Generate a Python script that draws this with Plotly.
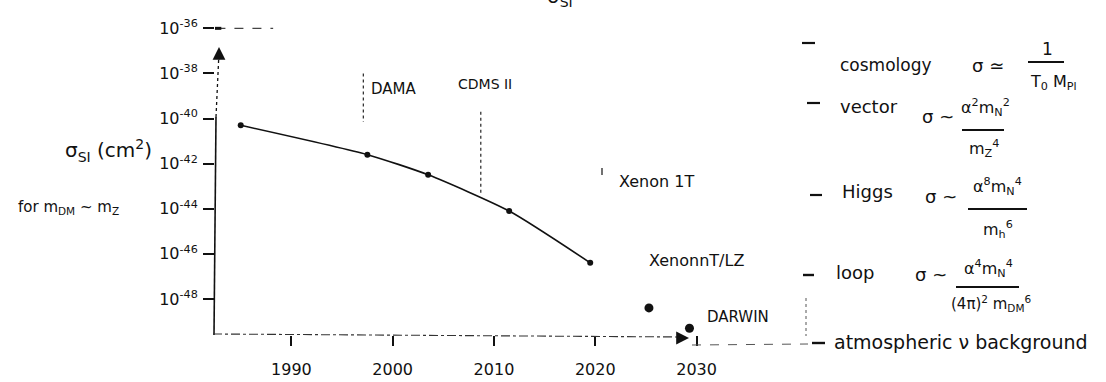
import plotly.graph_objects as go

# ---------------- data ----------------
exp_years = [1985.0, 1997.5, 2003.5, 2011.5, 2019.5]
exp_sigma = [5.0e-41, 2.5e-42, 3.2e-43, 7.9e-45, 4.0e-47]

future_years = [2025.3, 2029.3]
future_sigma = [4.0e-49, 5.0e-50]

line_names = ["DAMA", "CDMS II"]
line_years = [1997.1, 2008.7]
line_top = [1.0e-38, 2.0e-40]
line_bottom = [7.0e-41, 4.0e-44]

cosmo_years = [1982.6, 1988.2]
cosmo_sigma = [1.0e-36, 1.0e-36]

y_tick_vals = [1e-36, 1e-38, 1e-40, 1e-42, 1e-44, 1e-46, 1e-48]
y_tick_text = ["10<sup>-36</sup>", "10<sup>-38</sup>", "10<sup>-40</sup>", "10<sup>-42</sup>",
               "10<sup>-44</sup>", "10<sup>-46</sup>", "10<sup>-48</sup>"]
x_tick_vals = [1990, 2000, 2010, 2020, 2030]
x_tick_text = ["1990", "2000", "2010", "2020", "2030"]

# ---------------- layout geometry ----------------
W, H = 1106, 382
L, R, T, B = 215, 800, 20, 335   # plot area in pixels
FONT = "DejaVu Sans"
INK = "#111111"


def px(x, y):
    return (x - L) / (R - L), (B - y) / (B - T)


fig = go.Figure()

# measured limits curve
fig.add_trace(go.Scatter(x=exp_years, y=exp_sigma, mode="lines+markers",
                         line=dict(color=INK, width=1.6, shape="spline", smoothing=0.6),
                         marker=dict(color=INK, size=6), showlegend=False))
# projected sensitivities
fig.add_trace(go.Scatter(x=future_years, y=future_sigma, mode="markers",
                         marker=dict(color=INK, size=9), showlegend=False))
# DAMA / CDMS vertical markers
for name, yr, top, bot in zip(line_names, line_years, line_top, line_bottom):
    fig.add_trace(go.Scatter(x=[yr, yr], y=[top, bot], mode="lines",
                             line=dict(color=INK, width=1.1, dash="dot"), showlegend=False))
# cosmology level
fig.add_trace(go.Scatter(x=cosmo_years, y=cosmo_sigma, mode="lines",
                         line=dict(color="#444", width=1.1, dash="dash"), showlegend=False))
fig.add_trace(go.Scatter(x=cosmo_years[:1], y=cosmo_sigma[:1], mode="markers",
                         marker=dict(color=INK, size=7, symbol="line-ew-open",
                                     line=dict(width=3, color=INK)), showlegend=False))

shapes = []
annotations = []


def seg(x0, y0, x1, y1, dash="solid", width=1.5, color=INK):
    a0, b0 = px(x0, y0)
    a1, b1 = px(x1, y1)
    shapes.append(dict(type="line", xref="paper", yref="paper", x0=a0, y0=b0, x1=a1, y1=b1,
                       line=dict(color=color, width=width, dash=dash)))


def txt(x, y, s, size=16, xanchor="center", yanchor="middle"):
    a, b = px(x, y)
    annotations.append(dict(xref="paper", yref="paper", x=a, y=b, text=s, showarrow=False,
                            xanchor=xanchor, yanchor=yanchor,
                            font=dict(family=FONT, size=size, color=INK)))


# axes lines (hand-drawn style)
seg(214, 335, 216, 117, width=1.6)
seg(216, 117, 219, 52, dash="dot", width=1.3)
seg(213, 334, 684, 337, dash="dashdot", width=1.1, color="#333")
seg(692, 345, 808, 344, dash="dash", width=1.0, color="#555")
seg(806, 298, 806, 336, dash="dot", width=1.0, color="#555")

# arrow heads
a, b = px(219, 47)
annotations.append(dict(xref="paper", yref="paper", x=a, y=b, ax=0, ay=14, showarrow=True,
                        arrowhead=2, arrowsize=1.6, arrowwidth=1.6, arrowcolor=INK, text=""))
a, b = px(689, 338)
annotations.append(dict(xref="paper", yref="paper", x=a, y=b, ax=-12, ay=0, showarrow=True,
                        arrowhead=2, arrowsize=1.6, arrowwidth=1.6, arrowcolor=INK, text=""))

# y-axis title
txt(108, 150, "σ<sub>SI</sub> (cm<sup>2</sup>)", size=20)
txt(68, 207, "for m<sub>DM</sub> ~ m<sub>Z</sub>", size=15)

# partially visible title at the top
txt(560, 12, "σ<sub>SI</sub>", size=20, yanchor="bottom")

# experiment labels
txt(393, 89, "DAMA", size=15)
txt(485, 84, "CDMS II", size=14)
seg(602, 168, 602, 175, width=1.2)
txt(656, 182, "Xenon 1T", size=16)
txt(696, 260, "XenonnT/LZ", size=16)
txt(738, 317, "DARWIN", size=15)

# right-hand column (bullet dashes)
seg(802, 43, 815, 43, width=2.2)
seg(807, 103, 820, 103, width=2.2)
seg(810, 195, 822, 195, width=2.2)
seg(803, 275, 814, 275, width=2.4)
seg(812, 343, 825, 343, width=2.4)

txt(838, 65, "cosmology", size=17, xanchor="left")
txt(970, 65, "σ ≃", size=18, xanchor="left")
txt(1047, 49, "1", size=17)
seg(1028, 62, 1064, 62, width=1.8)
txt(1053, 83, "T<sub>0</sub> M<sub>Pl</sub>", size=16)

txt(838, 106, "vector", size=18, xanchor="left")
txt(920, 116, "σ ~", size=18, xanchor="left")
txt(985, 107, "α<sup>2</sup>m<sub>N</sub><sup>2</sup>", size=16)
seg(962, 130, 1004, 130, width=1.8)
txt(984, 148, "m<sub>Z</sub><sup>4</sup>", size=16)

txt(840, 191, "Higgs", size=18, xanchor="left")
txt(923, 196, "σ ~", size=18, xanchor="left")
txt(997, 186, "α<sup>8</sup>m<sub>N</sub><sup>4</sup>", size=16)
seg(968, 209, 1027, 209, width=1.8)
txt(998, 229, "m<sub>h</sub><sup>6</sup>", size=16)

txt(834, 272, "loop", size=18, xanchor="left")
txt(913, 274, "σ ~", size=18, xanchor="left")
txt(988, 268, "α<sup>4</sup>m<sub>N</sub><sup>4</sup>", size=16)
seg(956, 287, 1019, 287, width=1.8)
txt(991, 303, "(4π)<sup>2</sup> m<sub>DM</sub><sup>6</sup>", size=15)

txt(832, 342, "atmospheric ν background", size=19, xanchor="left")

fig.update_layout(
    width=W, height=H,
    margin=dict(l=L, r=W - R, t=T, b=H - B, pad=0),
    paper_bgcolor="white", plot_bgcolor="rgba(0,0,0,0)",
    shapes=shapes, annotations=annotations,
    xaxis=dict(range=[1982.46, 2040.21], showgrid=False, zeroline=False, showline=False,
               tickvals=x_tick_vals, ticktext=x_tick_text, ticks="outside", ticklen=10,
               tickwidth=2, tickcolor=INK, ticklabelstandoff=10,
               tickfont=dict(family=FONT, size=16, color=INK), automargin=False),
    yaxis=dict(type="log", range=[-49.60, -35.63], showgrid=False, zeroline=False, showline=False,
               tickvals=y_tick_vals, ticktext=y_tick_text, ticks="outside", ticklen=11,
               tickwidth=2, tickcolor=INK, ticklabelstandoff=2,
               tickfont=dict(family=FONT, size=16, color=INK), automargin=False),
)

fig.write_html("out.html", config={"displayModeBar": False},
               post_script="document.body.style.margin='0px';document.body.style.overflow='hidden';")
